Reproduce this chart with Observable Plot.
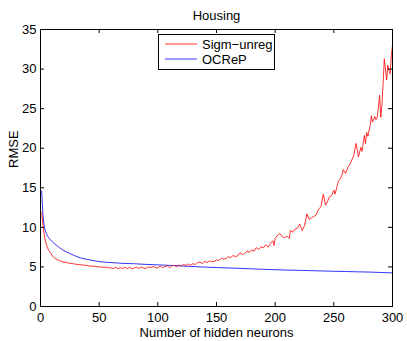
<!DOCTYPE html>
<html>
<head>
<meta charset="utf-8">
<script src="https://cdn.jsdelivr.net/npm/d3@7"></script>
<script src="https://cdn.jsdelivr.net/npm/@observablehq/plot@0.6"></script>
<style>
  html, body { margin: 0; padding: 0; background: #fff; }
  #chart { width: 407px; height: 341px; }
</style>
</head>
<body>
<div id="chart"></div>
<script>
const titleText = "Housing";
const xLabel = "Number of hidden neurons";
const yLabel = "RMSE";
const seriesNames = ["Sigm\u2212unreg", "OCReP"];
const seriesColors = ["#ff0000", "#0000ff"];
const xTicks = [0, 50, 100, 150, 200, 250, 300];
const yTicks = [0, 5, 10, 15, 20, 25, 30, 35];

// Sigm-unreg (red)
const redX = [1,2,3,4,5,6,7,8,9,10,12,14,16,18,20,22,24,26,28,30,32,34,36,38,40,42,44,46,48,50,
  52,54,56,58,60,62,64,66,68,70,72,74,76,78,80,82,84,86,88,90,92,94,96,98,100,
  102,104,106,108,110,112,114,116,118,120,122,124,126,128,130,132,134,136,138,140,
  142,144,146,148,150,152,154,156,158,160,162,164,166,168,170,172,174,176,178,180,
  182,184,186,188,190,192,194,196,198,199,200,202,204,206,208,210,212,213,215,217,219,221,223,225,
  227,229,231,233,235,237,239,241,243,245,246,248,250,251,253,254,255,257,258,260,262,263,265,267,
  269,271,273,274,276,277,278,279,281,282,283,285,286,287,288,289,290,291,292,293,294,295,296,297,298,299,300];
const redY = [11.9,10.4,9.2,8.4,7.8,7.4,7.1,6.9,6.7,6.4,6.15,5.95,5.8,5.7,5.6,5.55,5.5,5.45,5.4,5.35,5.3,5.28,5.25,5.2,5.18,5.12,5.1,5.08,5.05,5.0,
  5.0,4.95,4.98,4.9,4.88,4.8,4.95,4.78,4.9,4.82,4.95,4.78,4.95,4.75,4.88,4.95,4.8,5.0,4.86,4.82,5.02,4.9,5.06,4.92,4.85,
  5.1,4.92,5.05,5.15,4.9,5.15,5.2,5.02,5.25,5.12,5.32,5.18,5.38,5.22,5.42,5.3,5.55,5.6,5.42,5.7,
  5.55,5.75,5.65,5.7,5.9,5.8,6.1,6.0,6.05,6.3,6.15,6.45,6.3,6.4,6.8,6.55,6.7,7.0,6.85,7.15,
  7.0,7.45,7.2,7.55,7.4,7.8,7.5,8.0,8.3,7.7,8.6,9.0,9.2,8.8,8.7,8.9,8.6,9.6,9.4,9.8,9.9,10.4,9.6,10.2,
  11.7,11.0,11.2,11.4,11.6,12.3,12.6,14.2,12.8,13.4,13.8,14.0,14.7,14.2,15.3,15.9,16.0,16.6,17.3,16.8,17.6,17.8,18.4,19.1,
  20.6,18.9,20.1,19.6,21.6,20.6,22.0,21.5,22.9,24.1,23.3,24.0,23.6,23.9,25.2,26.7,23.9,25.5,28.2,31.3,30.0,28.6,30.5,29.8,29.4,31.7,33.0];

// OCReP (blue)
const blueX = [1,2,3,4,5,6,7,8,10,12,14,16,18,20,22,25,28,31,35,40,45,50,55,60,70,80,90,100,110,120,130,140,150,160,170,180,190,200,210,220,230,240,250,260,270,280,290,300];
const blueY = [14.6,11.7,10.3,9.6,9.2,8.9,8.7,8.5,8.2,7.9,7.7,7.45,7.25,7.05,6.9,6.7,6.5,6.3,6.1,5.95,5.8,5.68,5.6,5.55,5.45,5.4,5.32,5.26,5.2,5.12,5.05,4.98,4.92,4.87,4.82,4.76,4.7,4.65,4.6,4.57,4.53,4.49,4.45,4.42,4.38,4.35,4.3,4.25];

const red = redX.map((x, i) => ({x, y: redY[i]}));
const blue = blueX.map((x, i) => ({x, y: blueY[i]}));

const W = 407, H = 341;
const mL = 40, mR = 15, mT = 29, mB = 35;
const innerW = W - mL - mR, innerH = H - mT - mB;
const tk = 4;
const FONT = "Liberation Sans, Arial, Helvetica, sans-serif";
const FS = 13;

const chart = Plot.plot({
  width: W, height: H,
  marginLeft: mL, marginRight: mR, marginTop: mT, marginBottom: mB,
  style: {fontFamily: FONT, fontSize: FS + "px", color: "#000", background: "#fff", overflow: "visible"},
  x: {domain: [0, 300]},
  y: {domain: [0, 35]},
  marks: [
    Plot.line(blue, {x: "x", y: "y", stroke: seriesColors[1], strokeWidth: 0.8}),
    Plot.line(red, {x: "x", y: "y", stroke: seriesColors[0], strokeWidth: 0.8}),
    // inward ticks, all four sides
    Plot.tickX(xTicks, {x: d => d, insetTop: innerH - tk, stroke: "#000", strokeWidth: 1}),
    Plot.tickX(xTicks, {x: d => d, insetBottom: innerH - tk, stroke: "#000", strokeWidth: 1}),
    Plot.tickY(yTicks, {y: d => d, insetRight: innerW - tk, stroke: "#000", strokeWidth: 1}),
    Plot.tickY(yTicks, {y: d => d, insetLeft: innerW - tk, stroke: "#000", strokeWidth: 1}),
    Plot.frame({stroke: "#000", strokeWidth: 1}),
    Plot.axisX({ticks: xTicks, tickSize: 0, tickPadding: 6, label: null, fontSize: FS}),
    Plot.axisY({ticks: yTicks, tickSize: 0, tickPadding: 4, label: null, fontSize: FS}),
    Plot.text([titleText], {frameAnchor: "top", lineAnchor: "middle", dy: -14, fontSize: FS, fill: "#000"}),
    Plot.text([xLabel], {frameAnchor: "bottom", lineAnchor: "middle", dy: 26, fontSize: FS, fill: "#000"}),
    Plot.text([yLabel], {frameAnchor: "left", dx: -27, rotate: -90, fontSize: FS, fill: "#000"})
  ]
});

// Legend box (MATLAB-style)
const svg = d3.select(chart);
const lg = svg.append("g").attr("font-family", FONT).attr("font-size", FS).attr("text-anchor", "start");
lg.append("rect").attr("x", 158.5).attr("y", 34.5).attr("width", 116).attr("height", 35)
  .attr("fill", "#fff").attr("stroke", "#000").attr("stroke-width", 1);
seriesNames.forEach((name, i) => {
  const yy = 44 + i * 15;
  lg.append("line").attr("x1", 165).attr("x2", 197).attr("y1", yy).attr("y2", yy)
    .attr("stroke", seriesColors[i]).attr("stroke-width", 0.8);
  lg.append("text").attr("x", 202).attr("y", yy).attr("dy", "0.35em").attr("fill", "#000").text(name);
});

document.getElementById("chart").appendChild(chart);
</script>
</body>
</html>
